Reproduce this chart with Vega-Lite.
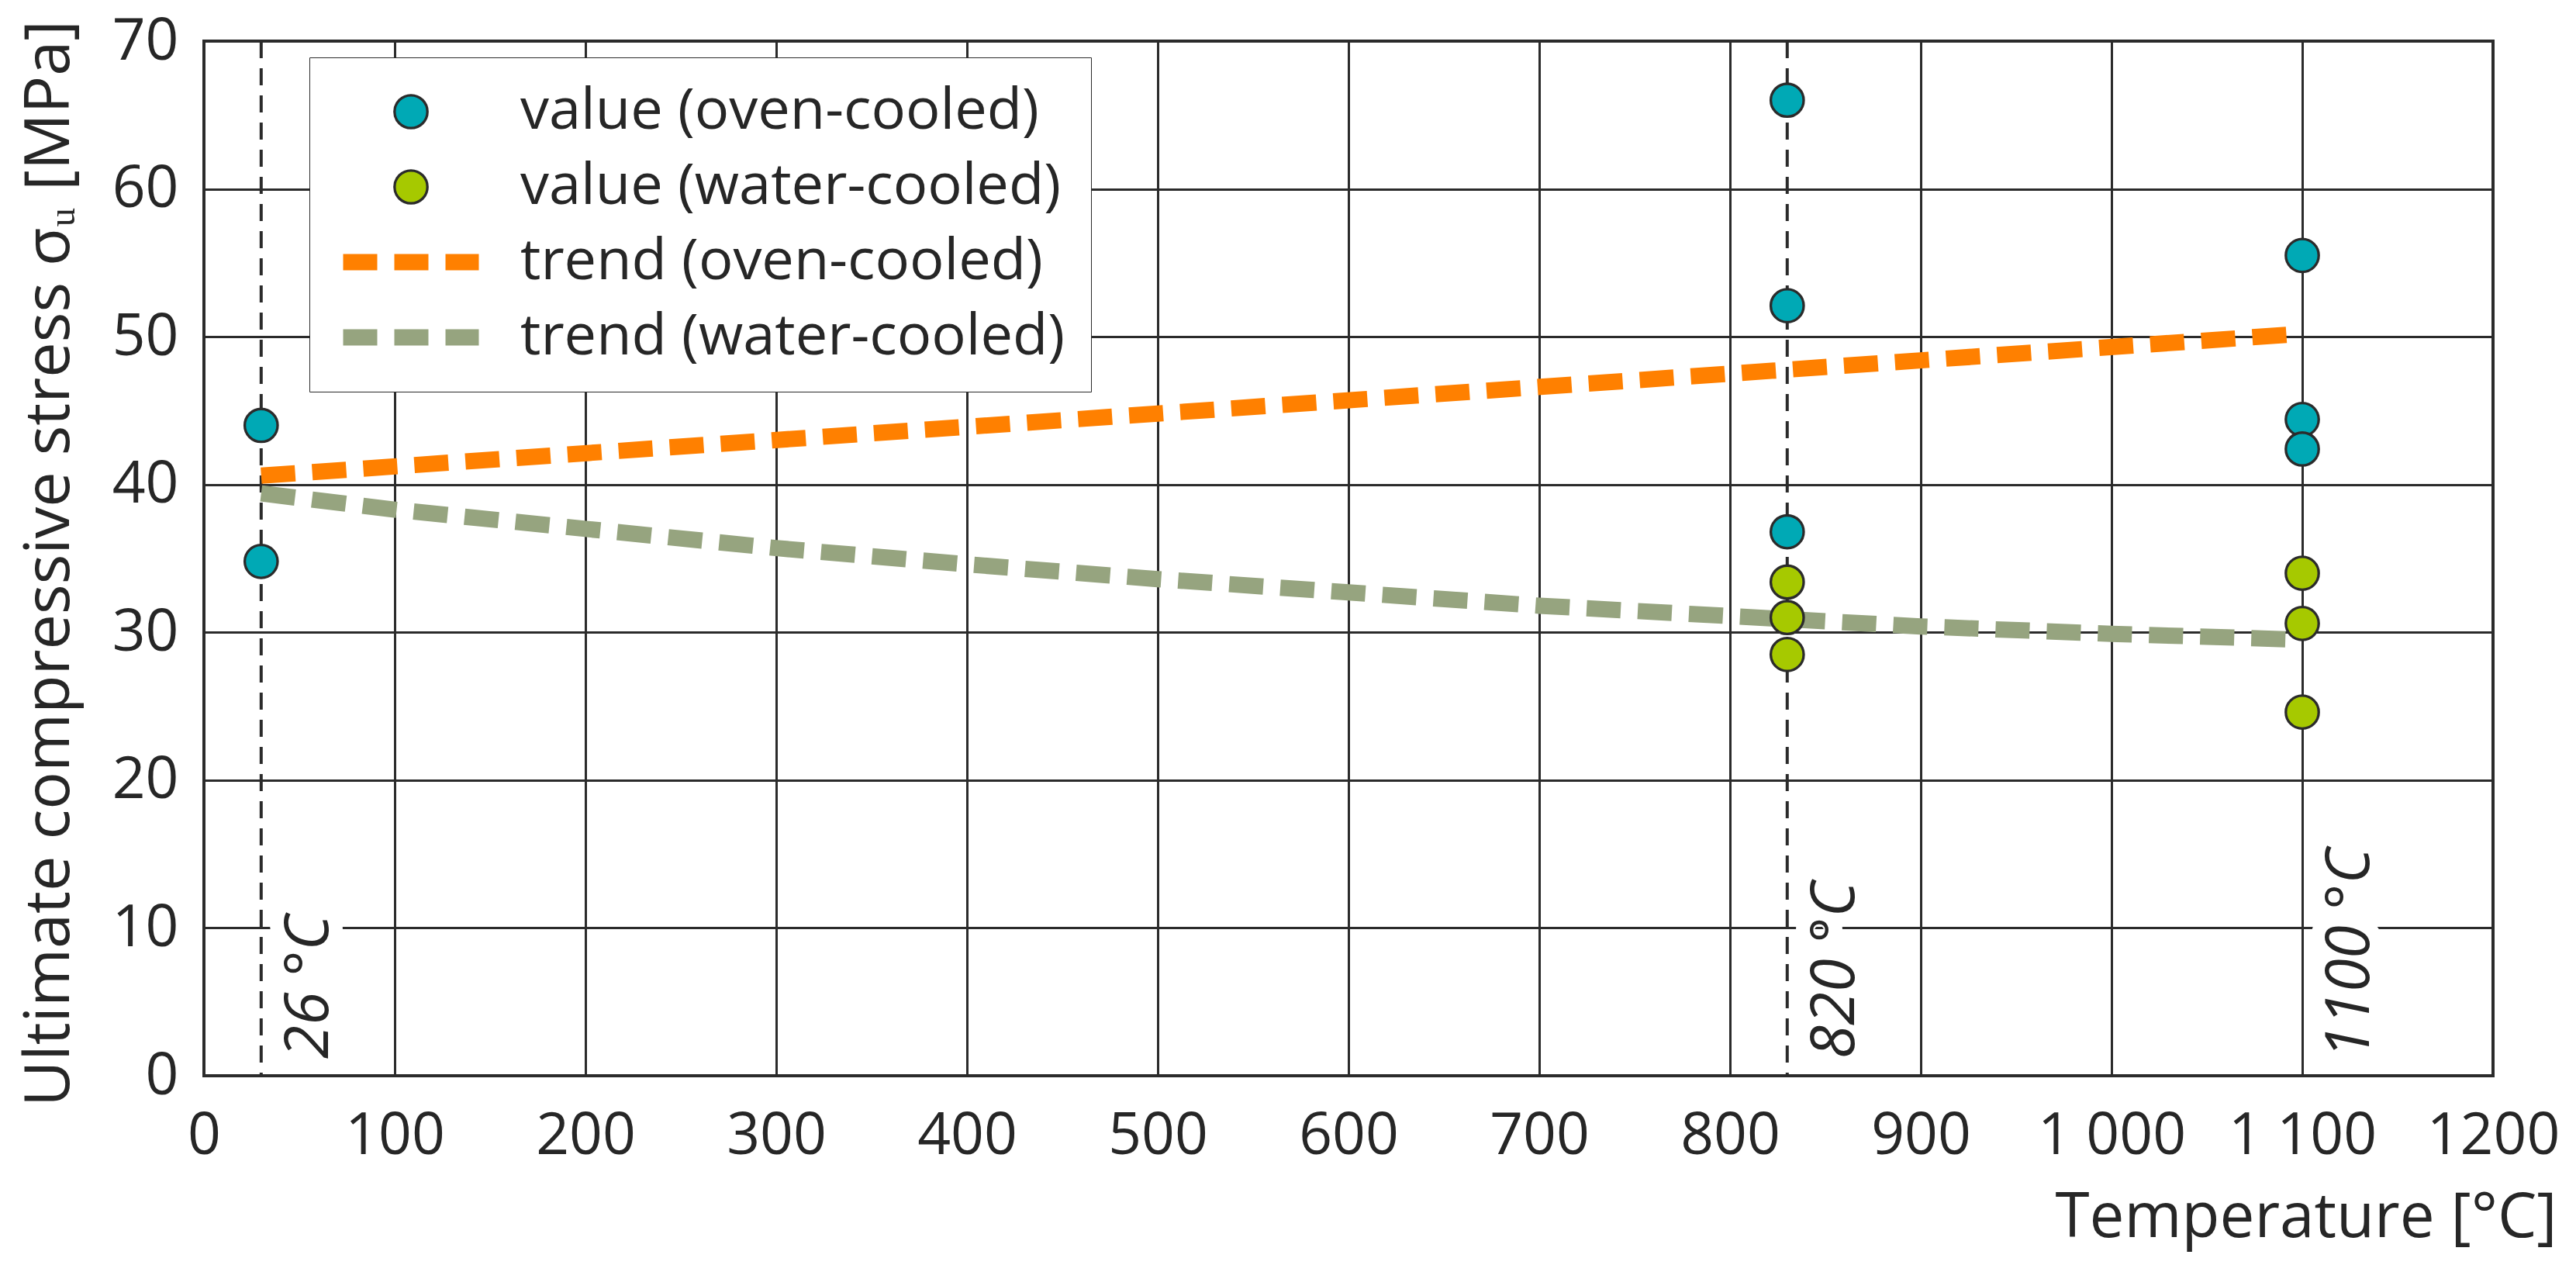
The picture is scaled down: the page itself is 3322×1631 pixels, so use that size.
{
  "$schema": "https://vega.github.io/schema/vega-lite/v6.json",
  "width": 2952,
  "height": 1334,
  "autosize": {"type": "none"},
  "padding": {"left": 263, "top": 53, "right": 107, "bottom": 244},
  "background": "white",
  "config": {
    "font": "Open Sans",
    "view": {"stroke": "#2b2b2b", "strokeWidth": 4},
    "axis": {
      "domain": false,
      "ticks": false,
      "tickSize": 0,
      "grid": true,
      "gridColor": "#2b2b2b",
      "gridWidth": 3,
      "gridOpacity": 1,
      "labelFont": "Open Sans",
      "labelFontSize": 75,
      "labelColor": "#262626",
      "labelFlush": false,
      "labelOverlap": false,
      "labelLimit": 1000,
      "titleFont": "Open Sans",
      "titleFontSize": 80,
      "titleFontWeight": "normal",
      "titleColor": "#262626",
      "titleLimit": 3000
    },
    "legend": {
      "orient": "none",
      "title": null,
      "padding": 33,
      "clipHeight": 74,
      "rowPadding": 23,
      "labelFont": "Open Sans",
      "labelFontSize": 74,
      "labelColor": "#262626",
      "labelLimit": 2000
    }
  },
  "datasets": {
    "values": [
      {"T": 30, "stress": 44.0, "series": "value (oven-cooled)"},
      {"T": 30, "stress": 34.8, "series": "value (oven-cooled)"},
      {"T": 830, "stress": 66.0, "series": "value (oven-cooled)"},
      {"T": 830, "stress": 52.1, "series": "value (oven-cooled)"},
      {"T": 830, "stress": 36.8, "series": "value (oven-cooled)"},
      {"T": 1100, "stress": 55.5, "series": "value (oven-cooled)"},
      {"T": 1100, "stress": 44.4, "series": "value (oven-cooled)"},
      {"T": 1100, "stress": 42.4, "series": "value (oven-cooled)"},
      {"T": 830, "stress": 33.4, "series": "value (water-cooled)"},
      {"T": 830, "stress": 31.0, "series": "value (water-cooled)"},
      {"T": 830, "stress": 28.5, "series": "value (water-cooled)"},
      {"T": 1100, "stress": 34.0, "series": "value (water-cooled)"},
      {"T": 1100, "stress": 30.6, "series": "value (water-cooled)"},
      {"T": 1100, "stress": 24.6, "series": "value (water-cooled)"}
    ],
    "trends": [
      {"T": 30, "stress": 40.6, "series": "trend (oven-cooled)"},
      {"T": 500, "stress": 44.8, "series": "trend (oven-cooled)"},
      {"T": 1100, "stress": 50.2, "series": "trend (oven-cooled)"},
      {"T": 30, "stress": 39.4, "series": "trend (water-cooled)"},
      {"T": 100, "stress": 38.3, "series": "trend (water-cooled)"},
      {"T": 200, "stress": 37.0, "series": "trend (water-cooled)"},
      {"T": 300, "stress": 35.7, "series": "trend (water-cooled)"},
      {"T": 400, "stress": 34.6, "series": "trend (water-cooled)"},
      {"T": 500, "stress": 33.6, "series": "trend (water-cooled)"},
      {"T": 600, "stress": 32.7, "series": "trend (water-cooled)"},
      {"T": 700, "stress": 31.8, "series": "trend (water-cooled)"},
      {"T": 800, "stress": 31.1, "series": "trend (water-cooled)"},
      {"T": 900, "stress": 30.4, "series": "trend (water-cooled)"},
      {"T": 1000, "stress": 29.9, "series": "trend (water-cooled)"},
      {"T": 1100, "stress": 29.5, "series": "trend (water-cooled)"}
    ],
    "guides": [
      {"T": 30},
      {"T": 830}
    ],
    "labels": [
      {"T": 30, "label": "26 °C"},
      {"T": 830, "label": "820 °C"},
      {"T": 1100, "label": "1100 °C"}
    ]
  },
  "encoding": {
    "x": {
      "field": "T",
      "type": "quantitative",
      "scale": {"domain": [0, 1200], "nice": false},
      "axis": {
        "values": [0, 100, 200, 300, 400, 500, 600, 700, 800, 900, 1000, 1100, 1200],
        "format": "d",
        "labelExpr": "datum.value == 1000 ? '1 000' : datum.value == 1100 ? '1 100' : datum.label",
        "labelBaseline": "alphabetic",
        "labelPadding": 100,
        "title": "Temperature [°C]",
        "titleX": 3034,
        "titleY": 207,
        "titleAlign": "right",
        "titleAnchor": "end",
        "titleBaseline": "alphabetic"
      }
    }
  },
  "layer": [
    {
      "data": {"name": "guides"},
      "mark": {"type": "rule", "color": "#2b2b2b", "strokeWidth": 4, "strokeDash": [22, 13]},
      "encoding": {}
    },
    {
      "data": {"name": "trends"},
      "mark": {"type": "line", "strokeWidth": 21, "strokeDash": [44, 22], "strokeCap": "butt"},
      "encoding": {
        "y": {
          "field": "stress",
          "type": "quantitative",
          "scale": {"domain": [0, 70], "nice": false},
          "axis": {
            "values": [0, 10, 20, 30, 40, 50, 60, 70],
            "labelPadding": 33,
            "title": "Ultimate compressive stress σᵤ [MPa]",
            "titleFontSize": 81,
            "titleAngle": 270,
            "titleX": -175,
            "titleY": 673,
            "titleAlign": "center",
            "titleBaseline": "alphabetic"
          }
        },
        "stroke": {
          "field": "series",
          "type": "nominal",
          "scale": {
            "domain": ["value (oven-cooled)", "value (water-cooled)", "trend (oven-cooled)", "trend (water-cooled)"],
            "range": ["transparent", "transparent", "#ff8000", "#96a47f"]
          },
          "legend": {
            "legendX": 136,
            "legendY": 21,
            "zindex": 1,
            "symbolType": "stroke",
            "symbolSize": 30625,
            "symbolStrokeWidth": 21,
            "symbolDash": [44, 22],
            "symbolOffset": 0,
            "labelOffset": 43,
            "strokeColor": "#2b2b2b",
            "fillColor": "white"
          }
        }
      }
    },
    {
      "data": {"name": "labels"},
      "mark": {
        "type": "text",
        "angle": 270,
        "align": "left",
        "baseline": "top",
        "dx": 22,
        "dy": 24,
        "font": "Open Sans",
        "fontSize": 78,
        "fontStyle": "italic",
        "fill": "white",
        "stroke": "white",
        "strokeWidth": 36,
        "strokeJoin": "round"
      },
      "encoding": {
        "y": {"datum": 0, "type": "quantitative"},
        "text": {"field": "label"}
      }
    },
    {
      "data": {"name": "labels"},
      "mark": {
        "type": "text",
        "angle": 270,
        "align": "left",
        "baseline": "top",
        "dx": 22,
        "dy": 24,
        "font": "Open Sans",
        "fontSize": 78,
        "fontStyle": "italic",
        "color": "#262626"
      },
      "encoding": {
        "y": {"datum": 0, "type": "quantitative"},
        "text": {"field": "label"}
      }
    },
    {
      "data": {"name": "values"},
      "mark": {
        "type": "point",
        "shape": "circle",
        "filled": true,
        "size": 1800,
        "opacity": 1,
        "stroke": "#2b2b2b",
        "strokeWidth": 3.3
      },
      "encoding": {
        "y": {
          "field": "stress",
          "type": "quantitative",
          "scale": {"domain": [0, 70], "nice": false},
          "axis": {
            "values": [0, 10, 20, 30, 40, 50, 60, 70],
            "labelPadding": 33,
            "title": "Ultimate compressive stress σᵤ [MPa]",
            "titleFontSize": 81,
            "titleAngle": 270,
            "titleX": -175,
            "titleY": 673,
            "titleAlign": "center",
            "titleBaseline": "alphabetic"
          }
        },
        "color": {
          "field": "series",
          "type": "nominal",
          "scale": {
            "domain": ["value (oven-cooled)", "value (water-cooled)"],
            "range": ["#00a9b5", "#a6c900"]
          },
          "legend": {
            "legendX": 136,
            "legendY": 21,
            "zindex": 2,
            "symbolType": "circle",
            "symbolSize": 1800,
            "symbolStrokeWidth": 3.3,
            "symbolStrokeColor": "#2b2b2b",
            "symbolOpacity": 1,
            "symbolOffset": 61,
            "labelExpr": "'\u00a0'",
            "labelOpacity": 0
          }
        }
      }
    }
  ]
}
